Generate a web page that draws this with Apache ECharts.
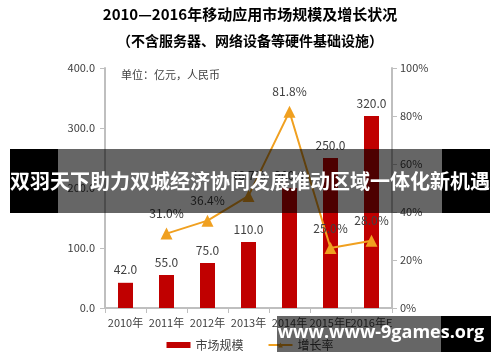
<!DOCTYPE html>
<html><head><meta charset="utf-8">
<script src="https://cdn.jsdelivr.net/npm/echarts@6/dist/echarts.min.js"></script>
<style>html,body{margin:0;padding:0;background:#fff}#c{width:500px;height:362px}</style>
</head><body><div id="c"></div>
<script>
const categories = ['2010年','2011年','2012年','2013年','2014年','2015年E','2016年E'];
const marketSize = [42.0, 55.0, 75.0, 110.0, 200.0, 250.0, 320.0];
const growthRate = [null, 31.0, 36.4, 46.7, 81.8, 25.0, 28.0];
const leftTicks = [0, 100, 200, 300, 400];
const rightTicks = [0, 20, 40, 60, 80, 100];
const titleLine1 = '2010—2016年移动应用市场规模及增长状况';
const titleLine2 = '（不含服务器、网络设备等硬件基础设施）';
const unitNote = '单位：亿元，人民币';
const bannerText = '双羽天下助力双城经济协同发展推动区域一体化新机遇';
const watermarkText = 'www.www-9games.org';

const FONT = '"Noto Sans CJK SC", "Noto Sans", sans-serif';
const TXT = '#404040';
const AXIS = '#BFBFBF';
const chart = echarts.init(document.getElementById('c'));
chart.setOption({
  animation: false,
  textStyle: {fontFamily: FONT},
  grid: {left: 105, right: 108, top: 68, bottom: 54},
  legend: {
    bottom: 6, left: 'center', itemGap: 24, itemWidth: 24, itemHeight: 6,
    textStyle: {fontSize: 12, color: TXT, fontFamily: FONT},
    data: [{name: '市场规模', icon: 'rect'}, {name: '增长率'}]
  },
  xAxis: {
    type: 'category', data: categories,
    axisLine: {lineStyle: {color: AXIS, width: 2}},
    axisTick: {show: true, length: 5, lineStyle: {color: AXIS}},
    axisLabel: {color: TXT, fontSize: 11, margin: 9, interval: 0}
  },
  yAxis: [{
    type: 'value', min: leftTicks[0], max: leftTicks[leftTicks.length-1], interval: 100,
    splitLine: {show: false},
    axisLine: {show: true, lineStyle: {color: AXIS, width: 2}},
    axisTick: {show: true, length: 5, lineStyle: {color: AXIS}},
    axisLabel: {color: TXT, fontSize: 11, margin: 10, formatter: v => v.toFixed(1)}
  }, {
    type: 'value', min: rightTicks[0], max: rightTicks[rightTicks.length-1], interval: 20,
    splitLine: {show: false},
    axisLine: {show: true, lineStyle: {color: AXIS, width: 2}},
    axisTick: {show: true, length: 5, lineStyle: {color: AXIS}},
    axisLabel: {color: TXT, fontSize: 11, margin: 8, formatter: v => v + '%'}
  }],
  series: [{
    name: '市场规模', type: 'bar', data: marketSize, barWidth: 15,
    itemStyle: {color: '#C00000'},
    label: {show: true, position: 'top', distance: 7, color: TXT, fontSize: 12,
      formatter: p => p.value.toFixed(1)}
  }, {
    name: '增长率', type: 'line', yAxisIndex: 1, data: growthRate,
    symbol: 'triangle', symbolSize: 12,
    lineStyle: {color: '#F0A020', width: 2},
    itemStyle: {color: '#F0A020'},
    label: {show: true, position: 'top', distance: 8, color: TXT, fontSize: 12,
      formatter: p => p.value.toFixed(1) + '%'}
  }],
  graphic: [
    {type: 'text', left: 'center', top: 7, z: 100,
      style: {text: titleLine1, fontSize: 15, fontWeight: 'bold', fill: '#000', fontFamily: FONT}},
    {type: 'text', left: 'center', top: 34, z: 100,
      style: {text: titleLine2, fontSize: 14, fontWeight: 'bold', fill: '#000', fontFamily: FONT}},
    {type: 'text', left: 121, top: 69, z: 100,
      style: {text: unitNote, fontSize: 11, fill: TXT, fontFamily: FONT}},
    {type: 'rect', z: 100, shape: {x: 10, y: 149, width: 48, height: 64}, style: {fill: '#000'}},
    {type: 'rect', z: 100, shape: {x: 58, y: 149, width: 384, height: 64}, style: {fill: 'rgba(0,0,0,0.6)'}},
    {type: 'rect', z: 100, shape: {x: 442, y: 149, width: 48, height: 64}, style: {fill: '#000'}},
    {type: 'text', z: 101, x: 250, y: 181,
      style: {text: bannerText, fontSize: 20, fontWeight: 'bold', fill: '#fff', fontFamily: FONT,
        align: 'center', verticalAlign: 'middle'}},
    {type: 'rect', z: 100, shape: {x: 277, y: 316, width: 164, height: 36}, style: {fill: 'rgba(0,0,0,0.6)'}},
    {type: 'rect', z: 100, shape: {x: 441, y: 316, width: 50, height: 36}, style: {fill: '#000'}},
    {type: 'text', z: 101, x: 381, y: 333,
      style: {text: watermarkText, fontSize: 18, fontWeight: 'bold', fill: '#fff', fontFamily: '"Open Sans", sans-serif',
        align: 'center', verticalAlign: 'middle'}}
  ]
});
</script></body></html>
